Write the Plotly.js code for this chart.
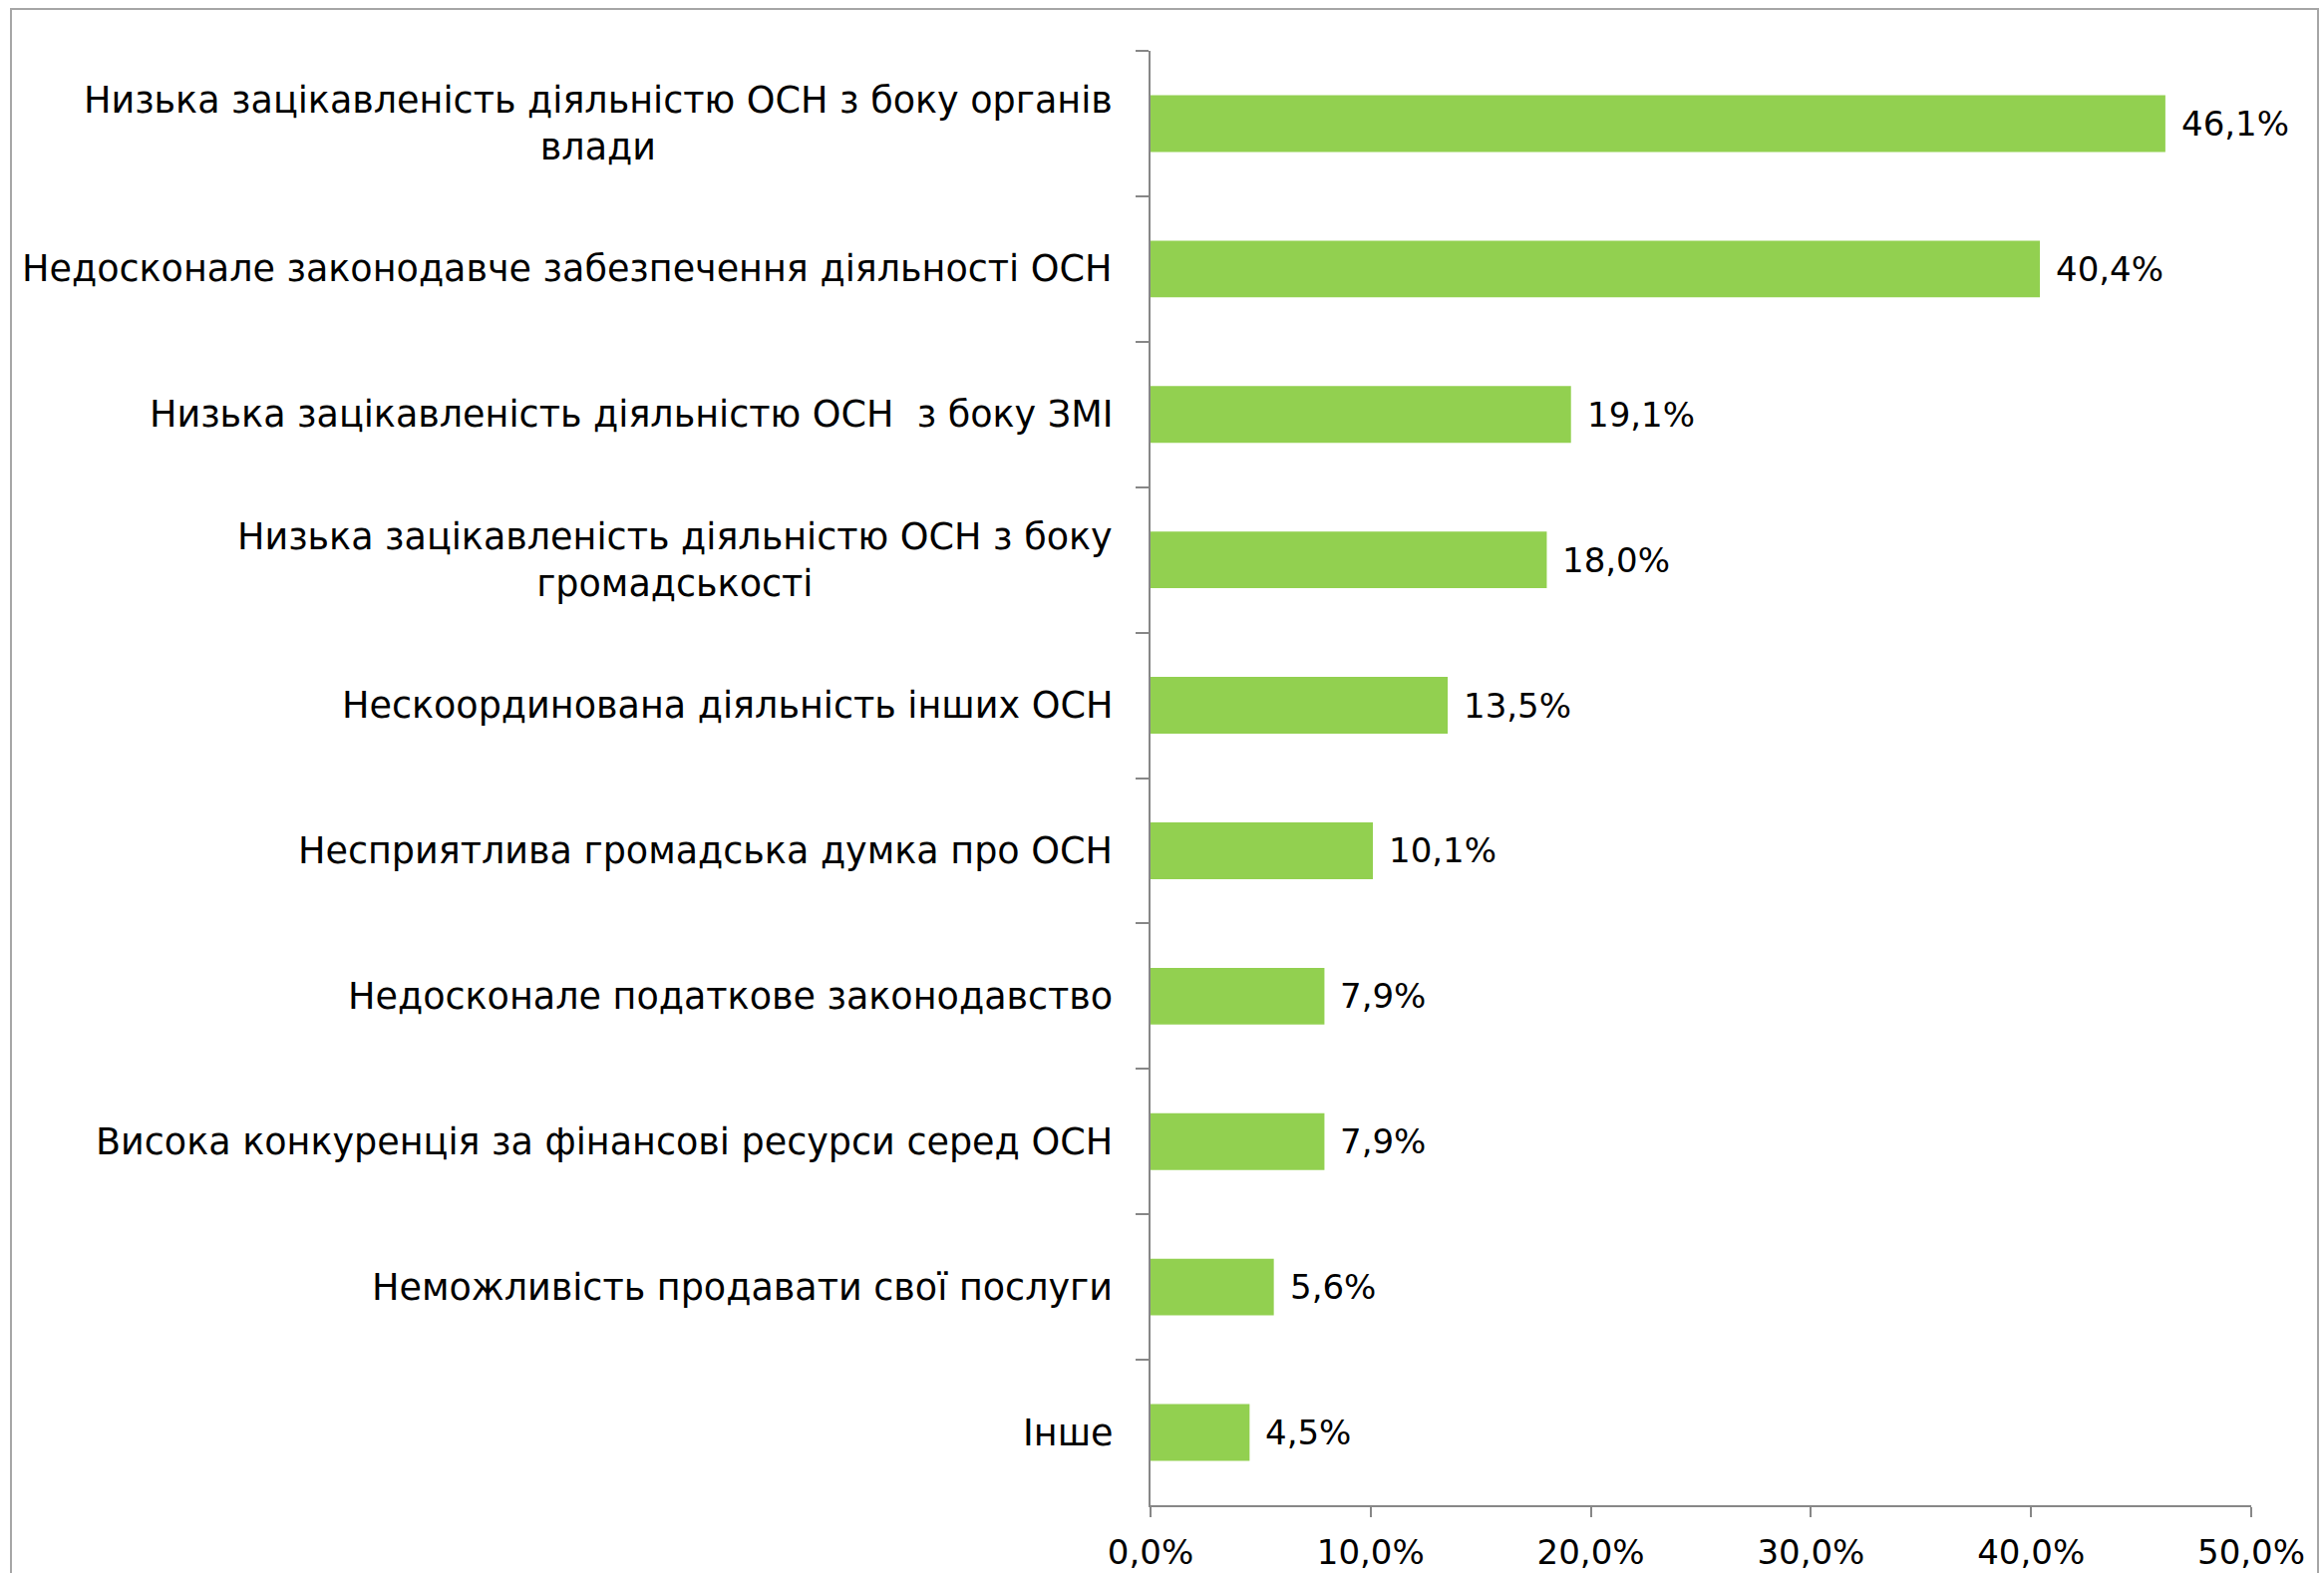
<!DOCTYPE html>
<html>
<head>
<meta charset="utf-8">
<script src="https://cdn.plot.ly/plotly-3.0.1.min.js"></script>
<style>
  html, body { margin:0; padding:0; background:#fff; width:2331px; height:1578px; overflow:hidden; }
  #frame { position:absolute; left:10px; top:8px; width:2316px; height:1620px; border:2px solid #a6a6a6; box-sizing:border-box; }
  #chart { position:absolute; left:0; top:0; width:2331px; height:1578px; }
</style>
</head>
<body>
<div id="frame"></div>
<div id="chart"></div>
<script>
const categories = [
  "Низька зацікавленість діяльністю ОСН з боку органів<br>влади",
  "Недосконале законодавче забезпечення діяльності ОСН",
  "Низька зацікавленість діяльністю ОСН  з боку ЗМІ",
  "Низька зацікавленість діяльністю ОСН з боку<br>громадськості",
  "Нескоординована діяльність інших ОСН",
  "Несприятлива громадська думка про ОСН",
  "Недосконале податкове законодавство",
  "Висока конкуренція за фінансові ресурси серед ОСН",
  "Неможливість продавати свої послуги",
  "Інше"
];
const values = [46.1, 40.4, 19.1, 18.0, 13.5, 10.1, 7.9, 7.9, 5.6, 4.5];
const valueLabels = ["46,1%", "40,4%", "19,1%", "18,0%", "13,5%", "10,1%", "7,9%", "7,9%", "5,6%", "4,5%"];
const xTickVals = [0, 10, 20, 30, 40, 50];
const xTickText = ["0,0%", "10,0%", "20,0%", "30,0%", "40,0%", "50,0%"];

const FONT = "'DejaVu Sans', Inter, sans-serif";
const FS = 34;
const FS_CAT = 36.5;

const annotations = [];
categories.forEach((c, i) => {
  annotations.push({
    xref: 'paper', yref: 'y', x: 0, y: c,
    xanchor: 'right', yanchor: 'middle', xshift: -36,
    text: c, showarrow: false, align: 'center',
    font: {family: FONT, size: FS_CAT, color: '#000'}
  });
  annotations.push({
    xref: 'x', yref: 'y', x: values[i], y: c,
    xanchor: 'left', yanchor: 'middle', xshift: 14,
    text: valueLabels[i], showarrow: false,
    font: {family: FONT, size: FS, color: '#000'}
  });
});

const data = [{
  type: 'bar', orientation: 'h',
  x: values, y: categories,
  marker: {color: '#92d050'},
  hoverinfo: 'none'
}];

const layout = {
  width: 2331, height: 1578,
  margin: {l: 1154, r: 73, t: 51, b: 68, pad: 0},
  paper_bgcolor: 'rgba(0,0,0,0)', plot_bgcolor: 'rgba(0,0,0,0)',
  showlegend: false,
  bargap: 0.61,
  font: {family: FONT, size: FS, color: '#000'},
  xaxis: {
    range: [0, 50], tickvals: xTickVals, ticktext: xTickText,
    showgrid: false, zeroline: false,
    showline: true, linecolor: '#878787', linewidth: 2,
    ticks: 'outside', ticklen: 10, tickwidth: 2, tickcolor: '#878787',
    ticklabelstandoff: 6,
    tickfont: {family: FONT, size: FS, color: '#000'},
    fixedrange: true
  },
  yaxis: {
    type: 'category', categoryorder: 'array', categoryarray: categories,
    range: [9.5, -0.5],
    tickson: 'boundaries',
    showticklabels: false,
    showgrid: false, zeroline: false,
    showline: true, linecolor: '#878787', linewidth: 2,
    ticks: 'outside', ticklen: 13, tickwidth: 2, tickcolor: '#878787',
    fixedrange: true
  },
  annotations: annotations
};

Plotly.newPlot('chart', data, layout, {displayModeBar: false, staticPlot: true});
</script>
</body>
</html>
